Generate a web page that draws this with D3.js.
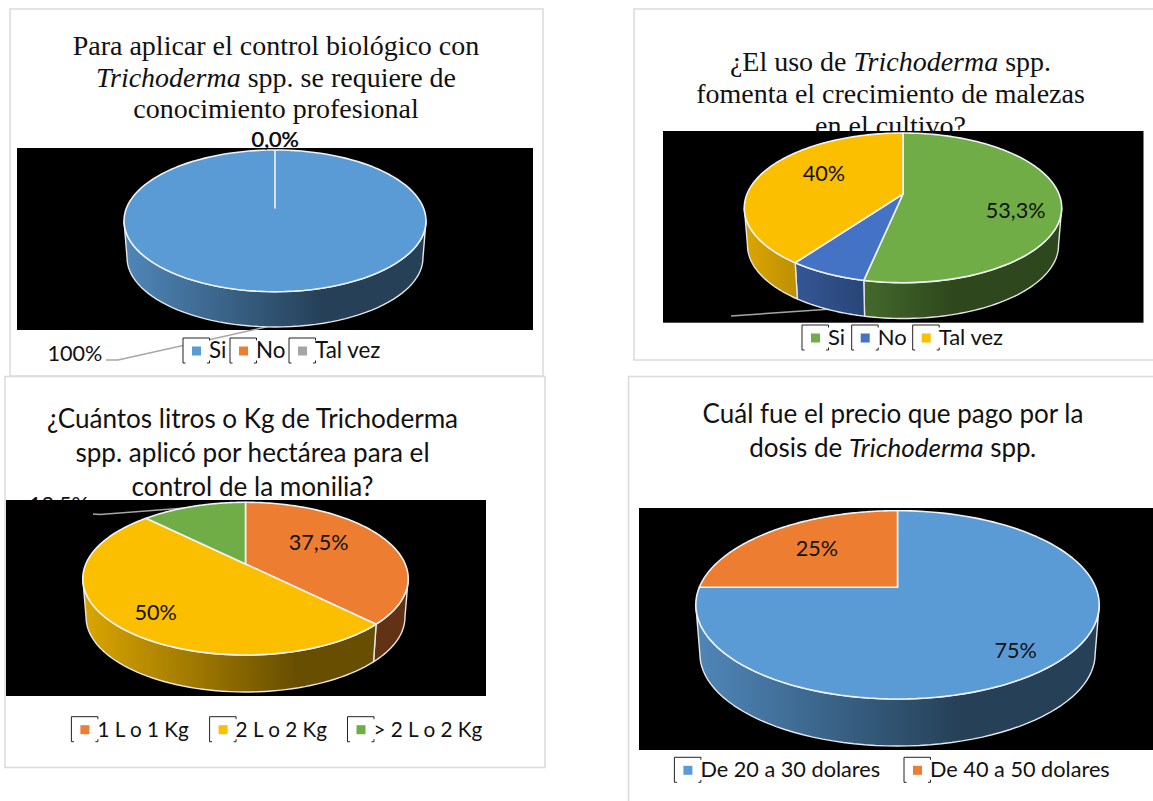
<!DOCTYPE html>
<html><head><meta charset="utf-8">
<script src="https://cdn.jsdelivr.net/npm/d3@7"></script>
<style>html,body{margin:0;padding:0;background:#fff;overflow:hidden}svg{display:block}</style>
</head><body><svg id="c" width="1153" height="801"></svg>
<script>
// ---- data ----
const controlCategories = ["Si","No","Tal vez"];
const controlValues = [100,0,0];
const controlLabels = ["100%","0,0%","0,0%"];
const malezasCategories = ["Si","No","Tal vez"];
const malezasValues = [53.3,6.7,40];
const malezasLabels = ["53,3%",null,"40%"];
const litrosCategories = ["1 L o 1 Kg","2 L o 2 Kg","> 2 L o 2 Kg"];
const litrosValues = [37.5,50,12.5];
const litrosLabels = ["37,5%","50%","12,5%"];
const precioCategories = ["De 20 a 30 dolares","De 40 a 50 dolares"];
const precioValues = [75,25];
const precioLabels = ["75%","25%"];

const BLUE="#5b9bd5",ORANGE="#ed7d31",GRAY="#a5a5a5",YELLOW="#fcbf00",GREEN="#70ad47",ROYAL="#4472c4";
const SERIF="'Liberation Serif','Times New Roman',serif", SANS="Lato,Carlito,Calibri,sans-serif";

// ---- layout ----
const charts=[
 {id:"control",cats:controlCategories,vals:controlValues,labs:controlLabels,colors:[BLUE,ORANGE,GRAY],
  frame:[10,9,533,367],bg:[17,148,516,182],
  pie:{cx:275,apex:208,rx:151,top:150,bottom:291.7,wall:327},
  titleFont:SERIF,titleSize:28,titleX:276,titleY:[55,87,118],
  title:[[["Para aplicar el control biológico con",0]],[["Trichoderma",1],[" spp. se requiere de",0]],[["conocimiento profesional",0]]],
  labelPos:[[75,361],[275,146.6],[275.5,147]],labelUnder:[],
  leader:[[106,360],[118,360],[275,325]],
  legendX:[183,230,289],legendY:338,legendSize:22.4},
 {id:"malezas",cats:malezasCategories,vals:malezasValues,labs:malezasLabels,colors:[GREEN,ROYAL,YELLOW],
  frame:[634,9,540,351],bg:[663,131,480.5,191.7],
  pie:{cx:903,apex:194,rx:158.7,top:133,bottom:282.7,wall:318.5},
  titleFont:SERIF,titleSize:28,titleX:890.5,titleY:[71,103,135],
  title:[[["¿El uso de ",0],["Trichoderma",1],[" spp.",0]],[["fomenta el crecimiento de malezas",0]],[["en el cultivo?",0]]],
  labelPos:[[1015.6,217.5],null,[824,181]],labelUnder:[],
  leader:[[731,316],[832,309]],
  legendX:[802,851.7,912.7],legendY:325,legendSize:22},
 {id:"litros",cats:litrosCategories,vals:litrosValues,labs:litrosLabels,colors:[ORANGE,YELLOW,GREEN],
  frame:[5,376.5,540,391],bg:[6,500,480,196],
  pie:{cx:245.5,apex:564,rx:162.7,top:502.3,bottom:655,wall:692},
  titleFont:SANS,titleSize:26.1,titleX:252.5,titleY:[428,462,496],
  title:[[["¿Cuántos litros o Kg de Trichoderma",0]],[["spp. aplicó por hectárea para el",0]],[["control de la monilia?",0]]],
  labelPos:[[318.6,549.5],[155.7,619.5],[59,512]],labelUnder:[2],
  leader:[[93,514],[100,514.4],[185,508]],
  legendX:[71.4,209.6,347.5],legendY:716.7,legendSize:20.7},
 {id:"precio",cats:precioCategories,vals:precioValues,labs:precioLabels,colors:[BLUE,ORANGE],
  frame:[628.5,376.5,560,460],bg:[639,508,514,242],
  pie:{cx:897.5,apex:587.3,rx:201.7,top:510.7,bottom:699,wall:746},
  titleFont:SANS,titleSize:26,titleX:893,titleY:[423,457],
  title:[[["Cuál fue el precio que pago por la",0]],[["dosis de ",0],["Trichoderma",1],[" spp",0],[".",1]]],
  labelPos:[[1015.6,657.5],[817,555.5]],labelUnder:[],
  leader:null,
  legendX:[674.4,904],legendY:757.3,legendSize:21.7}
];

const svg=d3.select("#c");
const defs=svg.append("defs");
const S=0.98, BOXW=26.5, BOXH=25;
const lineGen=d3.line();
const shade=(c,f)=>{const r=d3.rgb(c);return d3.rgb(r.r*f,r.g*f,r.b*f).formatHex();};

charts.forEach(ch=>{
  const g=svg.append("g").attr("id",ch.id);
  const [fx,fy,fw,fh]=ch.frame;
  g.append("rect").attr("x",fx).attr("y",fy).attr("width",fw).attr("height",fh)
   .attr("fill","#fff").attr("stroke","#dcdcdc").attr("stroke-width",1.6);

  // title
  const tt=g.append("text").attr("font-family",ch.titleFont).attr("font-size",ch.titleSize)
    .attr("fill","#111").attr("text-anchor","middle");
  ch.title.forEach((runs,i)=>{
    const line=tt.append("tspan").attr("x",ch.titleX).attr("y",ch.titleY[i]);
    runs.forEach(([t,it])=>line.append("tspan").attr("font-style",it?"italic":"normal").text(t));
  });

  // labels hidden behind the black plot area
  const lab=(sel,i)=>sel.append("text").attr("x",ch.labelPos[i][0]).attr("y",ch.labelPos[i][1])
     .attr("text-anchor","middle").attr("font-family",SANS).attr("font-size",21.6).attr("fill","#111").text(ch.labs[i]);
  ch.labelUnder.forEach(i=>lab(g,i));

  const [bx,by,bw,bh]=ch.bg;
  g.append("rect").attr("x",bx).attr("y",by).attr("width",bw).attr("height",bh).attr("fill","#000");

  // leader line under pie and legend
  if(ch.leader) g.append("path").attr("d",lineGen(ch.leader)).attr("fill","none")
     .attr("stroke","#a6a6a6").attr("stroke-width",1.5);

  // perspective projection of the disc
  const p=ch.pie, up=p.apex-p.top, down=p.bottom-p.apex;
  const k=(down-up)/(down+up), b=up*(1+k), a=p.rx*Math.sqrt(1-k*k);
  const off=p.wall-p.apex-down*S;
  const rim=(t,s,dy)=>{const X=Math.sin(t),Y=-Math.cos(t),w=1-k*Y;
    return [p.cx+s*a*X/w, p.apex+dy+s*b*Y/w];};
  const tv=Math.acos(-k);

  const arcs=d3.pie().sort(null).value(d=>d)(ch.vals);
  const grad=ch.id+"-g";
  // walls
  arcs.forEach((d,i)=>{
    const lo=Math.max(d.startAngle,tv),hi=Math.min(d.endAngle,2*Math.PI-tv);
    if(!(lo<hi)) return;
    const id=grad+i;
    const lg=defs.append("linearGradient").attr("id",id).attr("gradientUnits","userSpaceOnUse")
      .attr("x1",p.cx-p.rx).attr("x2",p.cx+p.rx).attr("y1",0).attr("y2",0);
    lg.append("stop").attr("offset",0).attr("stop-color",shade(ch.colors[i],.87));
    lg.append("stop").attr("offset",.66).attr("stop-color",shade(ch.colors[i],.41));
    lg.append("stop").attr("offset",1).attr("stop-color",shade(ch.colors[i],.41));
    const n=d3.range(0,61).map(j=>lo+(hi-lo)*j/60);
    const pts=n.map(t=>rim(t,1,0)).concat(n.slice().reverse().map(t=>rim(t,S,off)));
    g.append("path").attr("d",lineGen(pts)+"Z").attr("fill",`url(#${id})`)
     .attr("stroke","#e6e6e6").attr("stroke-width",1.4).attr("stroke-linejoin","round");
  });
  // top faces
  arcs.forEach((d,i)=>{
    if(d.endAngle-d.startAngle<=0) return;
    const n=d3.range(0,121).map(j=>d.startAngle+(d.endAngle-d.startAngle)*j/120);
    const pts=[[p.cx,p.apex]].concat(n.map(t=>rim(t,1,0)));
    g.append("path").attr("d",lineGen(pts)+"Z").attr("fill",ch.colors[i])
     .attr("stroke","#eef3f7").attr("stroke-width",1.6).attr("stroke-linejoin","round");
  });

  // value labels
  ch.labs.forEach((t,i)=>{ if(t && !ch.labelUnder.includes(i)) lab(g,i); });

  // legend
  ch.cats.forEach((c,i)=>{
    const x=ch.legendX[i],y=ch.legendY,e=g.append("g");
    e.append("rect").attr("x",x).attr("y",y).attr("width",BOXW).attr("height",BOXH).attr("fill","#fff");
    const tick=2.5;
    const bracket=d3.path();
    bracket.moveTo(x+BOXW,y+tick);bracket.lineTo(x+BOXW,y);bracket.lineTo(x,y);bracket.lineTo(x,y+BOXH);bracket.lineTo(x+tick,y+BOXH);
    bracket.moveTo(x+BOXW-tick,y+BOXH);bracket.lineTo(x+BOXW,y+BOXH);bracket.lineTo(x+BOXW,y+BOXH-tick);
    e.append("path").attr("d",bracket.toString()).attr("fill","none").attr("stroke","#222").attr("stroke-width",1);
    e.append("rect").attr("x",x+9).attr("y",y+8.5).attr("width",9).attr("height",9).attr("fill",ch.colors[i]);
    e.append("text").attr("x",x+BOXW-0.5).attr("y",y+20).attr("font-family",SANS).attr("font-size",ch.legendSize).attr("fill","#111").text(c);
  });
});
</script></body></html>
